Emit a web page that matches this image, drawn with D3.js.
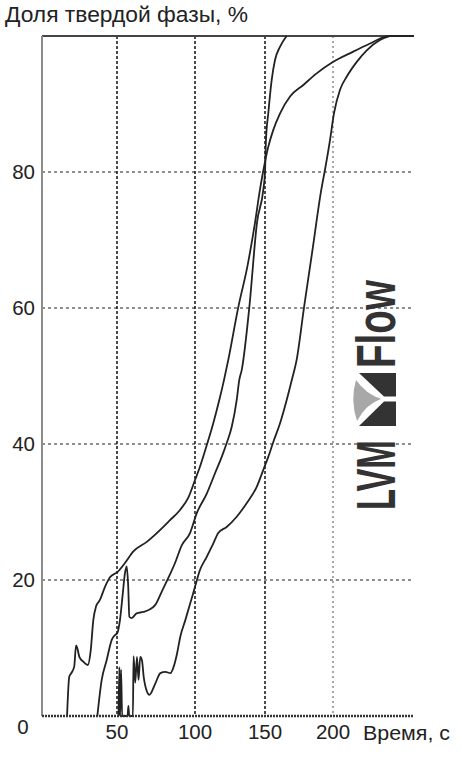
<!DOCTYPE html>
<html><head><meta charset="utf-8">
<script src="https://cdn.jsdelivr.net/npm/d3@7"></script>
<style>
html,body{margin:0;padding:0;background:#fff;}
svg{display:block;}
text{font-family:"Liberation Sans",Arial,sans-serif;fill:#222;}
</style></head>
<body>
<script>
// ---- data (time in s, solid fraction in %) ----
const titleText = "Доля твердой фазы, %";
const xAxisLabel = "Время, с";
const xTicks = [50, 100, 150, 200];
const yTicks = [20, 40, 60, 80];
const originLabel = "0";

const curveA_t = [16.7,18.2,19.8,21.5,22.7,23.5,24.9,27.5,30.5,32.5,34.2,36.0,38.7,42.0,45.3,50.4,55.1,60.5,69.1,79.7,84.0,90.4,95.7,100,103.6,108.8,113.1,117.4,120.7,123.8,130.9,137.5,142.9,146.4,148.6,152.4,156.1,161.0,168.4,178.2,188.0,200.2,215.0,227.4,237.3,242.2,260];
const curveA_v = [0,5.8,6.4,7.3,10.4,10.0,8.7,8.0,7.5,9.7,14.1,16.1,17.1,19.0,20.4,21.2,22.5,24.2,25.6,27.8,28.8,30.3,32.1,34.7,36.7,40.1,43.1,46.5,49.4,52.4,60.1,66.2,72.6,77.4,80.0,83.7,86.2,88.6,91.1,92.8,94.5,96.2,97.7,98.9,99.8,100,100];

const curveB_t = [36.9,39.8,43.1,46.5,48.7,50.2,51.9,53.7,55.1,56.2,57.2,57.9,59.4,62.6,66.9,71.2,74.4,78.7,82.9,87.2,91.5,96.8,101.2,108.4,114.3,119.1,122.6,126.2,129.8,131.6,133.4,138.8,144.3,148.8,150.0,150.7,152.4,154.9,157.4,161.0,165.9];
const curveB_v = [0,5.3,8.2,11.2,11.9,12.2,14.1,18.0,21.0,22.0,19.0,14.6,14.4,15.1,15.3,15.7,16.3,18.3,20.3,22.5,25.1,26.9,29.8,32.7,35.7,38.1,40.1,42.5,46.5,49.4,50.9,60.1,72.6,77.4,80.0,84.7,88.6,93.5,96.5,98.4,100];

const curveC_t = [50.96,51.5,52.0,52.6,53.3,56.8,57.3,57.8,60.2,60.6,61.7,62.8,63.8,64.9,66.0,67.1,69.2,70.7,74.6,77.8,81.0,84.2,86.4,88.5,90.6,93.8,97.0,100,103.6,108.4,113.1,116.6,122.6,129.8,136.9,144.1,148.8,152.4,156.1,161.0,166.0,169.7,173.3,178.7,184.9,191.4,193.8,197.8,200.7,205.2,210.1,217.6,225.0,234.8,242.2];
const curveC_v = [0,7.2,0,6.8,0,0,1.5,0,0,8.8,4.9,8.7,5.3,8.7,8.2,5.8,3.6,3.1,4.8,6.3,6.5,6.3,7.3,9.2,11.7,14.1,16.6,19.0,21.5,23.4,25.4,26.9,27.8,29.3,31.3,33.7,36.2,38.1,40.3,43.0,46.5,49.4,52.4,60.1,68.5,77.4,80.0,84.7,88.6,92.1,94.0,96.2,97.9,99.4,100];

const xDomainEnd = 260;

// ---- layout ----
const W = 462, H = 762;
const svg = d3.select("body").append("svg").attr("width", W).attr("height", H);

// the picture's time axis is slightly non-uniform; follow it piecewise
const x = d3.scaleLinear().domain([0, 50, 100, 150, 200, xDomainEnd]).range([42, 117, 195, 265, 333, 414]);
const y = d3.scaleLinear().domain([0, 100]).range([716, 36]);

// horizontal grid
svg.append("g").selectAll("line").data(yTicks).join("line")
  .attr("x1", x(0)).attr("x2", x(xDomainEnd))
  .attr("y1", d => y(d)).attr("y2", d => y(d))
  .attr("stroke", "#6a6a6a").attr("stroke-width", 1.5).attr("stroke-dasharray", "3,3");

// vertical grid
svg.append("g").selectAll("line").data(xTicks).join("line")
  .attr("x1", d => x(d)).attr("x2", d => x(d))
  .attr("y1", y(100)).attr("y2", y(0))
  .attr("stroke", d => d === 200 ? "#8a8a8a" : "#111")
  .attr("stroke-width", 1.5)
  .attr("stroke-dasharray", d => d === 200 ? "2,3" : "3,2");

// top border
svg.append("line").attr("x1", x(0)).attr("x2", x(xDomainEnd)).attr("y1", y(100)).attr("y2", y(100))
  .attr("stroke", "#444").attr("stroke-width", 2);
// left axis
svg.append("line").attr("x1", x(0)).attr("x2", x(0)).attr("y1", y(100)).attr("y2", y(0))
  .attr("stroke", "#8c8c8c").attr("stroke-width", 2);

// curves
const line = d3.line().x(d => x(d[0])).y(d => y(d[1])).curve(d3.curveMonotoneX);
const series = [
  d3.zip(curveA_t, curveA_v),
  d3.zip(curveB_t, curveB_v),
  d3.zip(curveC_t, curveC_v)
];
svg.append("g").selectAll("path").data(series).join("path")
  .attr("d", line).attr("fill", "none").attr("stroke", "#222")
  .attr("stroke-width", 1.8).attr("stroke-linejoin", "round");

// bottom axis (dotted heavy line)
svg.append("line").attr("x1", x(0)).attr("x2", x(xDomainEnd)).attr("y1", y(0)).attr("y2", y(0))
  .attr("stroke", "#333").attr("stroke-width", 2.5).attr("stroke-dasharray", "2,1");

// y tick labels
svg.append("g").selectAll("text").data(yTicks).join("text")
  .attr("x", 35).attr("y", d => y(d)).attr("dy", "0.36em")
  .attr("text-anchor", "end").attr("font-size", 20.5).text(d => d);

// x tick labels
svg.append("g").selectAll("text").data(xTicks).join("text")
  .attr("x", d => x(d)).attr("y", 732).attr("dy", "0.36em")
  .attr("text-anchor", "middle").attr("font-size", 20.5).text(d => d);

svg.append("text").attr("x", 23).attr("y", 727).attr("dy", "0.36em")
  .attr("text-anchor", "middle").attr("font-size", 20.5).text(originLabel);

svg.append("text").attr("x", 363).attr("y", 732).attr("dy", "0.36em")
  .attr("font-size", 21).attr("textLength", 87).attr("lengthAdjust", "spacingAndGlyphs").text(xAxisLabel);

// title
svg.append("text").attr("x", 5).attr("y", 22).attr("font-size", 22)
  .attr("textLength", 243).attr("lengthAdjust", "spacingAndGlyphs").text(titleText);

// ---- logo (rotated) ----
const logo = svg.append("g");
const g = logo.append("g").attr("transform", "translate(395,510) rotate(-90)");
g.append("text").attr("x", 0).attr("y", 0).attr("font-size", 55).attr("font-weight", "bold")
  .attr("textLength", 70).attr("lengthAdjust", "spacingAndGlyphs")
  .style("fill", "#333").text("LVM");
g.append("text").attr("x", 142).attr("y", 0).attr("font-size", 55).attr("font-weight", "bold")
  .attr("textLength", 88).attr("lengthAdjust", "spacingAndGlyphs")
  .style("fill", "#333").text("Flow");
// icon
logo.append("path").attr("d", "M359,373 L396,373 L396,396.5 L384,396.5 Z").attr("fill", "#333");
logo.append("path").attr("d", "M384,401.5 L396,401.5 L396,426 L359,426 Z").attr("fill", "#333");
logo.append("path").attr("d", "M356,380 Q366,394 381,399 Q366,404 357,421 Q350,400 356,380 Z").attr("fill", "#a8a8a8");
</script>
</body></html>
